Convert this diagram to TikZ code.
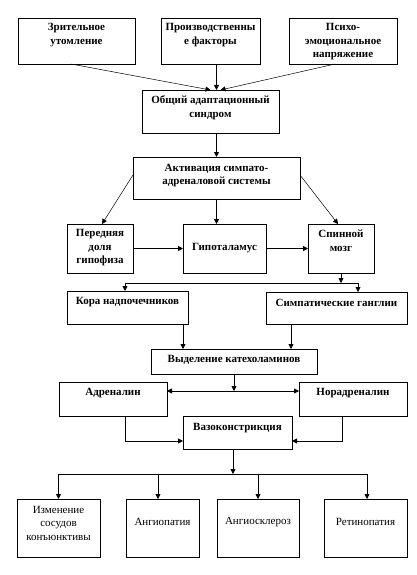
\documentclass[tikz,border=0pt]{standalone}
\usepackage{fontspec}
\setmainfont{Liberation Serif}
\usetikzlibrary{arrows.meta,calc}
\newcommand\mybox[5]{\node[box, minimum width={(#4-#2)*1pt}, minimum height={(#5-#3)*1pt}] (#1) at ({(#2+#4)/2},{-(#3+#5)/2}) {};}
\begin{document}
\begin{tikzpicture}[x=1pt,y=1pt,
  box/.style={draw, line width=0.8pt, inner sep=0pt, outer sep=0pt},
  lbl/.style={font=\fontsize{11}{13.5}\selectfont\bfseries, align=center, inner sep=0pt},
  lblr/.style={font=\fontsize{11}{13.5}\selectfont, align=center, inner sep=0pt},
  arr/.style={line width=0.8pt, -{Triangle[width=5pt,length=5pt]}},
  tarr/.style={line width=0.5pt, -{Triangle[width=5pt,length=5pt]}}]
\useasboundingbox (0,0) rectangle (417,-575);
\fill[white] (0,0) rectangle (417,-575);
% boxes
\mybox{b1}{18}{18}{135}{64}
\mybox{b2}{161}{18}{260}{64}
\mybox{b3}{289}{18}{397}{64}
\mybox{b4}{142}{90}{279}{133}
\mybox{b5}{133}{157}{300}{199}
\mybox{b6}{67}{224}{133}{273}
\mybox{b7}{183}{224}{266}{273}
\mybox{b8}{308}{224}{374}{273}
\mybox{b9}{67}{291}{188}{324}
\mybox{b10}{266}{292}{407}{324}
\mybox{b11}{151}{349}{317}{374}
\mybox{b12}{59}{382}{167}{416}
\mybox{b13}{299}{382}{407}{416}
\mybox{b14}{183}{416}{292}{449}
\mybox{b15}{17}{499}{100}{557}
\mybox{b16}{126}{499}{199}{557}
\mybox{b17}{217}{499}{299}{557}
\mybox{b18}{324}{499}{407}{557}
% texts
\node[lbl] (t1) at (76.5,-35) {Зрительное\\утомление};
\node[lbl] (t2) at (210.5,-35) {Производственны\\е факторы};
\node[lbl] (t3) at (343,-42) {Психо-\\эмоциональное\\напряжение};
\node[lbl] (t4) at (210.5,-107.5) {Общий адаптационный\\синдром};
\node[lbl] (t5) at (216.5,-175.5) {Активация симпато-\\адреналовой системы};
\node[lbl] (t6) at (100,-248) {Передняя\\доля\\гипофиза};
\node[lbl] (t7) at (224.5,-248) {Гипоталамус};
\node[lbl] (t8) at (341,-241) {Спинной\\мозг};
\node[lbl] (t9) at (127.5,-302) {Кора надпочечников};
\node[lbl] (t10) at (336.5,-303) {Симпатические ганглии};
\node[lbl] (t11) at (234,-360) {Выделение катехоламинов};
\node[lbl] (t12) at (113,-393) {Адреналин};
\node[lbl] (t13) at (353,-393) {Норадреналин};
\node[lbl] (t14) at (237.5,-428) {Вазоконстрикция};
\node[lblr] (t15) at (58.5,-523) {Изменение\\сосудов\\конъюнктивы};
\node[lblr] (t16) at (162.5,-522) {Ангиопатия};
\node[lblr] (t17) at (258,-522) {Ангиосклероз};
\node[lblr] (t18) at (365.5,-522) {Ретинопатия};
% connectors
\draw[tarr] ($(b1.south)+(-5.5,0)$) -- ($(b4.north)+(0,0)$);
\draw[arr] ($(b2.south)+(6,0)$) -- ($(b4.north)+(6,0)$);
\draw[tarr] ($(b3.south)+(-8,0)$) -- ($(b4.north)+(10,0)$);
\draw[arr] ($(b4.south)+(6,0)$) -- (b5.north);
\draw[tarr] ($(b5.west)+(0,3)$) -- ($(b6.north)+(2,0)$);
\draw[arr] (b5.south) -- (b5.south |- b7.north);
\draw[tarr] ($(b5.east)+(0,3)$) -- ($(b8.north)+(-3,0)$);
\draw[arr] (b6.east) -- (b7.west);
\draw[arr] (b7.east) -- (b8.west);
\coordinate (j1) at (341,-283);
\draw[arr] (b8.south) -- (j1);
\draw[arr] (j1) -| ($(b9.north)+(-2.5,0)$);
\draw[arr] (j1) -| ($(b10.north)+(21.5,0)$);
\coordinate (p9) at ($(b9.south east)+(-5,0)$);
\draw[arr] (p9) -- (p9 |- b11.north);
\coordinate (p10) at ($(b10.south west)+(25,0)$);
\draw[arr] (p10) -- (p10 |- b11.north);
\coordinate (j2) at (234,-391);
\draw[arr] (b11.south) -- (j2);
\draw[arr] (j2) -- (j2 -| b12.east);
\draw[arr] (j2) -- (j2 -| b13.west);
\coordinate (p12) at ($(b12.south west)+(66,0)$);
\coordinate (q12) at ($(b14.south west)+(0,8)$);
\draw[arr] (p12) |- (q12);
\coordinate (p13) at ($(b13.south west)+(43,0)$);
\coordinate (q13) at ($(b14.south east)+(0,8)$);
\draw[arr] (p13) |- (q13);
\coordinate (p14) at ($(b14.south)+(-4.5,0)$);
\coordinate (j3) at (233,-474);
\draw[arr] (p14) -- (j3);
\draw[arr] (j3) -| (b15.north);
\draw[arr] (j3) -| ($(b18.north)+(1.5,0)$);
\coordinate (p16) at ($(b16.north)+(-4.5,0)$);
\draw[arr] (p16 |- j3) -- (p16);
\draw[arr] (b17.north |- j3) -- (b17.north);
\end{tikzpicture}
\end{document}
